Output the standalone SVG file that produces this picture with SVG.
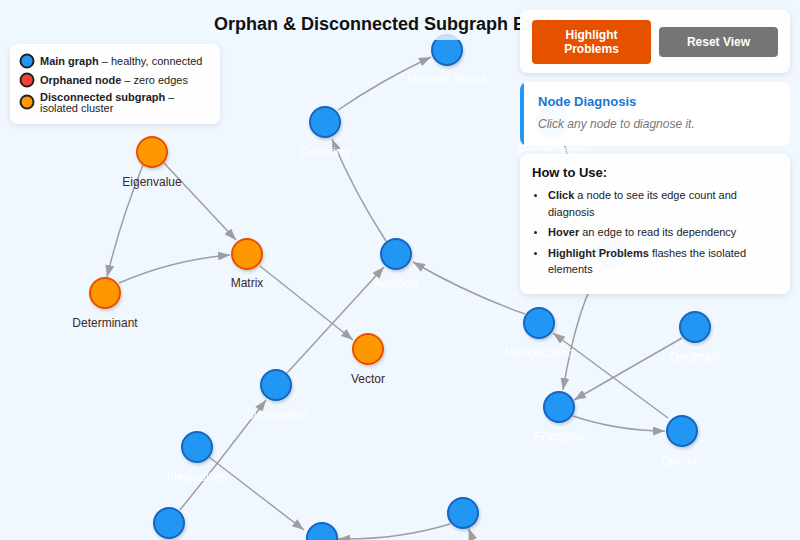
<svg xmlns="http://www.w3.org/2000/svg" width="800" height="540" viewBox="0 0 800 540">
<defs>
<style>
text{font-family:"Liberation Sans",Arial,sans-serif;}
.edge{fill:none;stroke:#9e9e9e;stroke-width:1.5;marker-end:url(#arr);}
.nb circle{fill:#2196f3;stroke:#1565c0;stroke-width:2;filter:url(#nsh);}
.no circle{fill:#ff9800;stroke:#e65100;stroke-width:2;filter:url(#nsh);}
.lb{font-size:12px;fill:#ffffff;text-anchor:middle;}
.lo{font-size:12px;fill:#3e2723;text-anchor:middle;}
.panel{fill:#ffffff;fill-opacity:0.96;filter:url(#psh);}
.b{font-weight:bold;}
.leg{font-size:11px;fill:#222;}
.lc{stroke:#222;stroke-width:2;}
.btn{font-size:12px;font-weight:bold;fill:#fff;text-anchor:middle;}
.how{font-size:11px;fill:#222;}
</style>
<marker id="arr" markerUnits="userSpaceOnUse" markerWidth="12" markerHeight="9" refX="12" refY="4.5" orient="auto">
<path d="M0,0 L12,4.5 L0,9 Z" fill="#9e9e9e"/>
</marker>
<filter id="nsh" x="-50%" y="-50%" width="200%" height="200%">
<feDropShadow dx="1" dy="2" stdDeviation="1.5" flood-color="#000" flood-opacity="0.18"/>
</filter>
<filter id="psh" x="-10%" y="-20%" width="120%" height="150%">
<feDropShadow dx="0" dy="2" stdDeviation="3" flood-color="#000" flood-opacity="0.1"/>
</filter>
<clipPath id="diagClip"><rect x="520" y="82" width="270" height="64" rx="8"/></clipPath>
</defs>
<rect x="0" y="0" width="800" height="540" fill="#f0f7ff"/>

<g id="connectors">
<path class="edge" d="M338,110 Q382,80 431,57"/>
<path class="edge" d="M386,241 Q354,192 332,139"/>
<path class="edge" d="M287,373 L384,267"/>
<path class="edge" d="M180,510 Q223,457 266,400"/>
<path class="edge" d="M209,457 L304,530"/>
<path class="edge" d="M450,524 Q397,540 338,539"/>
<path class="edge" d="M476,548 L468.6,528.5"/>
<path class="edge" d="M525,314 Q466,293 413,262"/>
<path class="edge" d="M668,418 L553,333"/>
<path class="edge" d="M682,338 L574,400"/>
<path class="edge" d="M573,416 Q618,431 665,431"/>
<path class="edge" d="M561,135 Q576,185 606,236"/>
<path class="edge" d="M603,266 Q578,300 563,390"/>
<path class="edge" d="M164,163 L236,240"/>
<path class="edge" d="M143,165 Q121,219 107,277"/>
<path class="edge" d="M119,283 Q172,260 230,255"/>
<path class="edge" d="M260,266 L353,340"/>
</g>

<g id="node-number-sense" class="nb"><circle cx="447" cy="50" r="15"/><text class="lb" x="447" y="83">Number Sense</text></g>
<g id="node-counting" class="nb"><circle cx="325" cy="122" r="15"/><text class="lb" x="325" y="156">Counting</text></g>
<g id="node-addition" class="nb"><circle cx="396" cy="254" r="15"/><text class="lb" x="396" y="288">Addition</text></g>
<g id="node-subtraction" class="nb"><circle cx="276" cy="385" r="15"/><text class="lb" x="276" y="419">Subtraction</text></g>
<g id="node-inequalities" class="nb"><circle cx="197" cy="447" r="15"/><text class="lb" x="197" y="481">Inequalities</text></g>
<g id="node-b1" class="nb"><circle cx="169" cy="523" r="15"/></g>
<g id="node-b2" class="nb"><circle cx="322" cy="538" r="15"/></g>
<g id="node-b3" class="nb"><circle cx="463" cy="513" r="15"/></g>
<g id="node-multiplication" class="nb"><circle cx="539" cy="323" r="15"/><text class="lb" x="539" y="357">Multiplication</text></g>
<g id="node-decimals" class="nb"><circle cx="695" cy="327" r="15"/><text class="lb" x="695" y="361">Decimals</text></g>
<g id="node-fractions" class="nb"><circle cx="559" cy="407" r="15"/><text class="lb" x="559" y="441">Fractions</text></g>
<g id="node-division" class="nb"><circle cx="682" cy="431" r="15"/><text class="lb" x="682" y="465">Division</text></g>
<g id="node-percentages" class="nb"><circle cx="552" cy="121" r="15"/><text class="lb" x="552" y="154">Percentages</text></g>
<g id="node-hidden" class="nb"><circle cx="612" cy="252" r="15"/></g>

<g id="node-eigenvalue" class="no"><circle cx="152" cy="152" r="15"/><text class="lo" x="152" y="186">Eigenvalue</text></g>
<g id="node-matrix" class="no"><circle cx="247" cy="254" r="15"/><text class="lo" x="247" y="287">Matrix</text></g>
<g id="node-determinant" class="no"><circle cx="105" cy="293" r="15"/><text class="lo" x="105" y="327">Determinant</text></g>
<g id="node-vector" class="no"><circle cx="368" cy="349" r="15"/><text class="lo" x="368" y="383">Vector</text></g>

<g id="header">
<rect x="0" y="0" width="800" height="40" fill="#f0f7ff" fill-opacity="0.8"/>
<text x="400" y="30" font-size="18" font-weight="bold" fill="#111" text-anchor="middle">Orphan &amp; Disconnected Subgraph Explorer</text>
</g>

<g id="legend">
<rect class="panel" x="10" y="44" width="210" height="80" rx="8"/>
<circle class="lc" cx="27" cy="61" r="6.5" fill="#2196f3"/>
<circle class="lc" cx="27" cy="80" r="6.5" fill="#f44336"/>
<circle class="lc" cx="27" cy="102" r="6.5" fill="#ff9800"/>
<text class="leg" x="40" y="65"><tspan class="b">Main graph</tspan> – healthy, connected</text>
<text class="leg" x="40" y="84"><tspan class="b">Orphaned node</tspan> – zero edges</text>
<text class="leg" x="40" y="101"><tspan class="b">Disconnected subgraph</tspan> –</text>
<text class="leg" x="40" y="112">isolated cluster</text>
</g>

<g id="controls">
<rect class="panel" x="520" y="10" width="270" height="63" rx="8"/>
<rect x="532" y="20" width="119" height="44" rx="4" fill="#e65100"/>
<text class="btn" x="591.5" y="39">Highlight</text>
<text class="btn" x="591.5" y="53">Problems</text>
<rect x="659" y="27" width="119" height="30" rx="4" fill="#757575"/>
<text class="btn" x="718.5" y="46">Reset View</text>
</g>

<g id="diagnosis">
<rect x="520" y="82" width="270" height="64" rx="8" fill="#fff" fill-opacity="0.01" filter="url(#psh)"/>
<g clip-path="url(#diagClip)">
<rect x="520" y="82" width="270" height="64" fill="#ffffff" fill-opacity="0.96"/>
<rect x="520" y="82" width="4" height="64" fill="#2196f3"/>
</g>
<text x="538" y="106" font-size="13" font-weight="bold" fill="#1976d2">Node Diagnosis</text>
<text x="538" y="128" font-size="12" font-style="italic" fill="#777">Click any node to diagnose it.</text>
</g>

<g id="how-to-use">
<rect class="panel" x="520" y="154" width="270" height="140" rx="8"/>
<text x="532" y="177" font-size="13" font-weight="bold" fill="#111">How to Use:</text>
<circle cx="535.5" cy="195.5" r="1.5" fill="#222"/>
<circle cx="535.5" cy="232.5" r="1.5" fill="#222"/>
<circle cx="535.5" cy="253.5" r="1.5" fill="#222"/>
<text class="how" x="548" y="199"><tspan class="b">Click</tspan> a node to see its edge count and</text>
<text class="how" x="548" y="216">diagnosis</text>
<text class="how" x="548" y="236"><tspan class="b">Hover</tspan> an edge to read its dependency</text>
<text class="how" x="548" y="257"><tspan class="b">Highlight Problems</tspan> flashes the isolated</text>
<text class="how" x="548" y="273">elements</text>
</g>
</svg>
